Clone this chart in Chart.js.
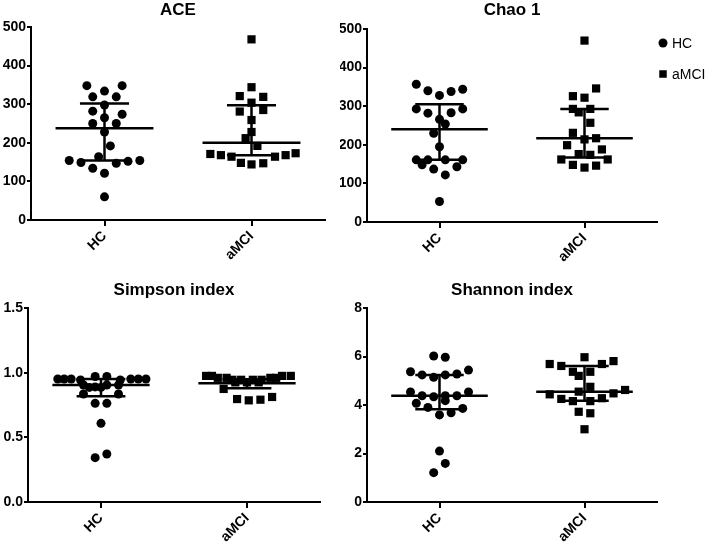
<!DOCTYPE html>
<html>
<head>
<meta charset="utf-8">
<title>Alpha diversity</title>
<script src="https://cdn.jsdelivr.net/npm/chart.js@4.4.0/dist/chart.umd.min.js"></script>
<style>
    body { margin: 0; background: #fff; }
    #wrap { position: relative; width: 709px; height: 543px; overflow: hidden; }
    #wrap canvas { position: absolute; }
</style>
</head>
<body>
<div id="wrap">
    <canvas id="ace" width="340" height="270" style="left:0;top:0"></canvas>
    <canvas id="chao" width="369" height="270" style="left:340px;top:0"></canvas>
    <canvas id="simpson" width="340" height="273" style="left:0;top:270px"></canvas>
    <canvas id="shannon" width="369" height="273" style="left:340px;top:270px"></canvas>
</div>
<script>
const groups = ['HC', 'aMCI'];

// slot = horizontal jitter step of the dot plot
const aceHC = [348, 334, 348, 319, 319, 298, 282, 274, 265, 250, 250, 228, 192, 164, 154, 149, 147, 152, 154, 134, 121, 60];
const aceHCSlots = [-3, 0, 3, -2, 2, 0, -2, 3, 0, -2, 2, 0, 1, -1, -6, -4, 2, 4, 6, -2, 0, 0];
const aceAMCI = [468, 344, 321, 319, 304, 281, 285, 259, 228, 212, 192, 171, 168, 164, 164, 168, 173, 148, 144, 147];
const aceAMCISlots = [0, 0, -2, 2, 0, -2, 2, 0, 0, -1, 1, -7, -5.2, -3.4, 4, 5.8, 7.5, -1.8, 0, 2];
const aceCenter = [237.5, 200];
const aceLow = [154, 168];
const aceHigh = [302, 297];

const chaoHC = [357, 340, 328, 338, 344, 293, 293, 282, 283, 266, 254, 230, 195, 161, 161, 161, 161, 148, 137, 143, 122, 53];
const chaoHCSlots = [-4, -2, 0, 2, 4, -4, 4, -2, 2, 0, 1, -1, 0, -4, -2, 1, 4, -3, -1, 3, 1, 0];
const chaoAMCI = [470, 346, 326, 322, 293, 284, 293, 257, 231, 214, 217, 199, 188, 176, 174, 162, 162, 148, 141, 146];
const chaoAMCISlots = [0, 2, -2, 0, -2, -1, 1, 1, -2, 0, 2, -3, 3, -1, 1, -4, 4, -2, 0, 2];
const chaoCenter = [240, 217];
const chaoLow = [161, 167];
const chaoHigh = [305, 293];

const simpsonHC = [0.951, 0.951, 0.951, 0.951, 0.951, 0.951, 0.943, 0.943, 0.97, 0.97, 0.905, 0.89, 0.905, 0.905, 0.886, 0.886, 0.835, 0.835, 0.763, 0.763, 0.608, 0.343, 0.371];
const simpsonHCSlots = [-7.4, -6.3, -5.1, 5.1, 6.4, 7.7, -3.5, 3.3, -1, 1, -3, -1, 1, 3, -2, 0, -3, 3, -1, 1, 0, -1, 1];
const simpsonAMCI = [0.975, 0.975, 0.975, 0.975, 0.96, 0.96, 0.96, 0.96, 0.945, 0.945, 0.945, 0.945, 0.925, 0.925, 0.925, 0.874, 0.796, 0.786, 0.791, 0.812];
const simpsonAMCISlots = [-7, -6, 6, 7.5, -5, -3.5, 4, 5, -2.5, -1, 1, 2.5, -2, 0, 2, -4, -1.7, 0.3, 2.3, 4.3];
const simpsonCenter = [0.905, 0.918];
const simpsonLow = [0.818, 0.879];
const simpsonHigh = [0.951, 0.949];

const shannonHC = [6.02, 5.97, 5.37, 5.44, 5.24, 5.14, 5.24, 5.28, 4.54, 4.54, 4.38, 4.34, 4.38, 4.38, 4.07, 4.18, 3.90, 3.86, 3.59, 3.68, 2.10, 1.59, 1.21];
const shannonHCSlots = [-1, 1, -5, 5, -3, -1, 1, 3, -5, 5, -3, -1, 1, 3, -4, 1, -2, 4, 0, 2, 0, 1, -1];
const shannonAMCI = [5.97, 5.69, 5.61, 5.69, 5.81, 5.37, 5.37, 5.20, 4.75, 4.55, 4.44, 4.48, 4.62, 4.25, 4.16, 4.16, 4.28, 3.72, 3.66, 3.00];
const shannonAMCISlots = [0, -6, -4, 3, 5, -2, 1, -1, 1, -1, -6, 5, 7, -4, -2, 1, 3, -1, 1, 0];
const shannonCenter = [4.38, 4.55];
const shannonLow = [3.82, 4.18];
const shannonHigh = [5.24, 5.61];

const FONT = '"Liberation Sans", Arial, sans-serif';
const SLOT = 0.04;
const MEAN_HALF = 0.333;
const CAP_HALF = 0.167;

// legend drawn to the right of the Chao 1 panel
const sideLegend = {
    id: 'sideLegend',
    afterDraw(chart, args, opts) {
        if (!opts.show) return;
        const ctx = chart.ctx;
        const x = chart.chartArea.right + 6;
        let y = chart.chartArea.top + 14;
        ctx.save();
        ctx.font = '14px ' + FONT;
        ctx.textBaseline = 'middle';
        chart.data.datasets.slice(0, 2).forEach(ds => {
            ctx.fillStyle = '#000';
            Chart.helpers.drawPoint(ctx, { pointStyle: ds.pointStyle, radius: ds.pointStyle === 'rect' ? 5.3 : 4.5, rotation: 0, borderWidth: 0 }, x, y);
            ctx.fillText(ds.label, x + 9, y + 1);
            y += 31;
        });
        ctx.restore();
    }
};

function statLines(centers, lows, highs) {
    const pts = [];
    for (let g = 0; g < groups.length; g++) {
        const x = g + 1;
        pts.push({ x: x - MEAN_HALF, y: centers[g] }, { x: x + MEAN_HALF, y: centers[g] }, { x: x, y: null });
        pts.push({ x: x, y: lows[g] }, { x: x, y: highs[g] }, { x: x, y: null });
        pts.push({ x: x - CAP_HALF, y: highs[g] }, { x: x + CAP_HALF, y: highs[g] }, { x: x, y: null });
        pts.push({ x: x - CAP_HALF, y: lows[g] }, { x: x + CAP_HALF, y: lows[g] }, { x: x, y: null });
    }
    return pts;
}

function makePanel(id, title, yMax, yStep, yDigits, hc, hcSlots, amci, amciSlots, centers, lows, highs, lay) {
    const tickFont = { family: FONT, size: 14, weight: 'bold' };
    return new Chart(document.getElementById(id), {
        type: 'scatter',
        data: {
            datasets: [{
                label: 'HC',
                data: hc.map((v, i) => ({ x: 1 + hcSlots[i] * SLOT, y: v })),
                pointStyle: 'circle',
                pointRadius: 4.5,
                backgroundColor: '#000',
                borderWidth: 0
            }, {
                label: 'aMCI',
                data: amci.map((v, i) => ({ x: 2 + amciSlots[i] * SLOT, y: v })),
                pointStyle: 'rect',
                pointRadius: 5.8,
                backgroundColor: '#000',
                borderWidth: 0
            }, {
                label: 'stats',
                data: statLines(centers, lows, highs),
                showLine: true,
                spanGaps: false,
                pointRadius: 0,
                borderColor: '#000',
                borderWidth: 2.5,
                order: -1
            }]
        },
        options: {
            responsive: false,
            animation: false,
            layout: { padding: { left: 0, right: lay.right, top: 0, bottom: 0 } },
            plugins: {
                legend: { display: false },
                tooltip: { enabled: false },
                title: {
                    display: true,
                    text: title,
                    fullSize: false,
                    color: '#000',
                    font: { family: FONT, size: 17, weight: 'bold' },
                    padding: { top: lay.titleTop, bottom: lay.titleBottom }
                },
                sideLegend: { show: lay.legend }
            },
            scales: {
                x: {
                    type: 'linear',
                    min: 0.5,
                    max: 2.5,
                    afterBuildTicks: axis => { axis.ticks = groups.map((g, i) => ({ value: i + 1 })); },
                    afterFit: axis => { axis.height = lay.xHeight; },
                    grid: { display: true, drawOnChartArea: false, drawTicks: true, tickLength: 6, color: '#000', lineWidth: 2 },
                    border: { color: '#000', width: 2 },
                    ticks: {
                        callback: v => groups[v - 1],
                        minRotation: 45,
                        maxRotation: 45,
                        autoSkip: false,
                        padding: 2,
                        color: '#000',
                        font: tickFont
                    }
                },
                y: {
                    min: 0,
                    max: yMax,
                    afterFit: axis => { axis.width = lay.yWidth; },
                    grid: { display: true, drawOnChartArea: false, drawTicks: true, tickLength: 4, color: '#000', lineWidth: 2 },
                    border: { color: '#000', width: 2 },
                    ticks: {
                        stepSize: yStep,
                        callback: v => v.toFixed(yDigits),
                        padding: 1,
                        color: '#000',
                        font: tickFont
                    }
                }
            }
        },
        plugins: [sideLegend]
    });
}

makePanel('ace', 'ACE', 500, 100, 0, aceHC, aceHCSlots, aceAMCI, aceAMCISlots, aceCenter, aceLow, aceHigh,
    { right: 15, titleTop: 0, titleBottom: 6.6, xHeight: 50, yWidth: 31, legend: false });
makePanel('chao', 'Chao 1', 500, 100, 0, chaoHC, chaoHCSlots, chaoAMCI, chaoAMCISlots, chaoCenter, chaoLow, chaoHigh,
    { right: 52, titleTop: 0, titleBottom: 8.6, xHeight: 48, yWidth: 27, legend: true });
makePanel('simpson', 'Simpson index', 1.5, 0.5, 1, simpsonHC, simpsonHCSlots, simpsonAMCI, simpsonAMCISlots, simpsonCenter, simpsonLow, simpsonHigh,
    { right: 20, titleTop: 9.8, titleBottom: 7.8, xHeight: 41, yWidth: 28, legend: false });
makePanel('shannon', 'Shannon index', 8, 2, 0, shannonHC, shannonHCSlots, shannonAMCI, shannonAMCISlots, shannonCenter, shannonLow, shannonHigh,
    { right: 52, titleTop: 9.8, titleBottom: 7.8, xHeight: 41, yWidth: 27, legend: false });
</script>
</body>
</html>
